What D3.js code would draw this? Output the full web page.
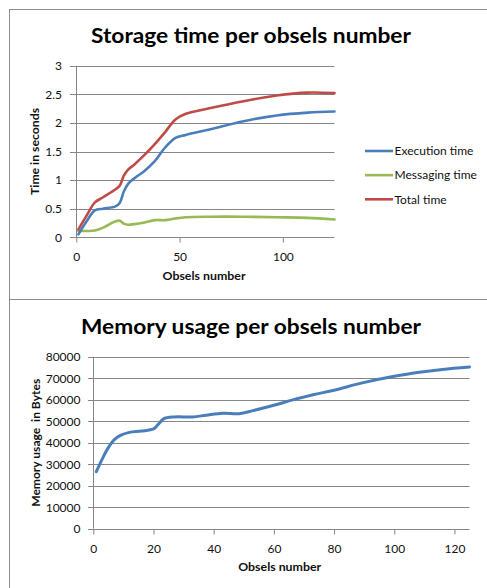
<!DOCTYPE html>
<html><head><meta charset="utf-8">
<script src="https://cdn.jsdelivr.net/npm/d3@7"></script>
<style>
html,body{margin:0;padding:0;background:#fff;}
svg{display:block;font-family:Lato,"Open Sans",sans-serif;}
</style></head>
<body>
<svg id="c" width="487" height="588"></svg>
<script>
// ---- Data: storage time chart ----
const obselsTime = [1, 5, 9, 13, 19, 21, 23, 25, 28, 33, 38, 43, 48, 53, 65, 81, 97, 112, 125];
const executionTime = [0.05, 0.28, 0.47, 0.50, 0.54, 0.60, 0.80, 0.93, 1.03, 1.16, 1.33, 1.57, 1.74, 1.79, 1.89, 2.03, 2.13, 2.18, 2.20];
const messagingTime = [0.11, 0.11, 0.12, 0.17, 0.28, 0.29, 0.24, 0.22, 0.23, 0.26, 0.30, 0.30, 0.33, 0.35, 0.36, 0.36, 0.35, 0.34, 0.31];
const totalTime = [0.14, 0.38, 0.61, 0.70, 0.84, 0.90, 1.08, 1.18, 1.27, 1.44, 1.63, 1.84, 2.06, 2.16, 2.26, 2.38, 2.48, 2.53, 2.52];
const timeSeriesNames = ["Execution time", "Messaging time", "Total time"];
const timeXTicks = [0, 50, 100];
const timeYTicks = [0, 0.5, 1, 1.5, 2, 2.5, 3];

// ---- Data: memory chart ----
const obselsMem = [1, 3, 5, 7, 9, 12, 16, 20, 21.5, 23.5, 27, 33, 37.5, 43, 48.5, 53, 60, 66, 73, 80, 89, 100, 109, 116, 125];
const memoryBytes = [26500, 32500, 37700, 41400, 43400, 44800, 45400, 46400, 48400, 51200, 52000, 52000, 52800, 53700, 53500, 54900, 57400, 59800, 62300, 64400, 67700, 70900, 72900, 74100, 75200];
const memXTicks = [0, 20, 40, 60, 80, 100, 120];
const memYTicks = [0, 10000, 20000, 30000, 40000, 50000, 60000, 70000, 80000];

const colors = ["#4a7ebb", "#98b954", "#be4b48"];
const gridColor = "#868686";
const textColor = "#111";
const svg = d3.select("#c");

// ---- frames ----
svg.append("rect").attr("x", 9.5).attr("y", 9.5).attr("width", 490).attr("height", 290).attr("fill", "none").attr("stroke", "#8c8c8c");
svg.append("rect").attr("x", 9.5).attr("y", 299.5).attr("width", 490).attr("height", 300).attr("fill", "none").attr("stroke", "#8c8c8c");

const curve = d3.curveCatmullRom.alpha(0.5);

// ================= Chart 1 =================
{
  const x = d3.scaleLinear().domain([0, 125]).range([76.3, 334.5]);
  const y = d3.scaleLinear().domain([0, 3]).range([237.3, 65.7]);
  const g = svg.append("g");

  g.append("g").selectAll("line").data(timeYTicks).join("line")
    .attr("x1", 70).attr("x2", x(125)).attr("y1", d => Math.round(y(d)) + 0.5).attr("y2", d => Math.round(y(d)) + 0.5)
    .attr("stroke", gridColor).attr("stroke-width", 1);

  const ya = d3.axisLeft(y).tickValues(timeYTicks).tickSize(0).tickPadding(0).tickFormat(d3.format("~g"));
  const yg = g.append("g").attr("transform", "translate(62,0)").call(ya);
  yg.select(".domain").remove();
  yg.selectAll("text").attr("font-size", 12).attr("fill", textColor).attr("font-family", "Lato");

  g.append("line").attr("x1", 76.5).attr("x2", 76.5).attr("y1", y(3)).attr("y2", y(0)).attr("stroke", gridColor);

  const xa = d3.axisBottom(x).tickValues(timeXTicks).tickSize(5).tickPadding(10);
  const xg = g.append("g").attr("transform", `translate(0,${Math.round(y(0)) + 0.5})`).call(xa);
  xg.select(".domain").remove();
  xg.selectAll("line").attr("stroke", gridColor);
  xg.selectAll("text").attr("font-size", 12).attr("fill", textColor).attr("font-family", "Lato");

  const seriesList = [executionTime, messagingTime, totalTime];
  const line = d3.line().x((d, i) => x(obselsTime[i])).y(d => y(d)).curve(curve);
  [1, 0, 2].forEach(k => {
    g.append("path").datum(seriesList[k]).attr("d", line).attr("fill", "none")
      .attr("stroke", colors[k]).attr("stroke-width", 2.6).attr("stroke-linejoin", "round").attr("stroke-linecap", "round");
  });

  svg.append("text").attr("x", 251).attr("y", 42.5).attr("text-anchor", "middle")
    .attr("font-size", 21).attr("font-weight", "bold").attr("font-family", "Lato").attr("fill", "#000")
    .attr("textLength", 320).attr("lengthAdjust", "spacingAndGlyphs").text("Storage time per obsels number");

  svg.append("text").attr("x", 204).attr("y", 279.5).attr("text-anchor", "middle").attr("fill", textColor)
    .attr("font-size", 12).attr("font-weight", "bold").attr("textLength", 83).attr("lengthAdjust", "spacingAndGlyphs").text("Obsels number");
  svg.append("text").attr("transform", "translate(39,151.5) rotate(-90)").attr("text-anchor", "middle").attr("fill", textColor)
    .attr("font-size", 12).attr("font-weight", "bold").attr("textLength", 87).attr("lengthAdjust", "spacingAndGlyphs").text("Time in seconds");

  const ly = d3.scalePoint().domain(timeSeriesNames).range([151, 199.3]);
  const lg = svg.append("g");
  timeSeriesNames.forEach((n, k) => {
    lg.append("line").attr("x1", 365).attr("x2", 393).attr("y1", ly(n)).attr("y2", ly(n))
      .attr("stroke", colors[k]).attr("stroke-width", 2.6);
    lg.append("text").attr("x", 394.5).attr("y", ly(n) + 4.3).attr("font-size", 12).attr("fill", textColor).text(n);
  });
}

// ================= Chart 2 =================
{
  const x = d3.scaleLinear().domain([0, 125]).range([93.3, 469.5]);
  const y = d3.scaleLinear().domain([0, 80000]).range([528.7, 356.7]);
  const g = svg.append("g");

  g.append("g").selectAll("line").data(memYTicks).join("line")
    .attr("x1", 88).attr("x2", x(125)).attr("y1", d => Math.round(y(d)) + 0.5).attr("y2", d => Math.round(y(d)) + 0.5)
    .attr("stroke", gridColor);

  const ya = d3.axisLeft(y).tickValues(memYTicks).tickSize(0).tickPadding(0).tickFormat(d3.format("d"));
  const yg = g.append("g").attr("transform", "translate(80.5,0)").call(ya);
  yg.select(".domain").remove();
  yg.selectAll("text").attr("font-size", 12).attr("fill", textColor).attr("font-family", "Lato");

  g.append("line").attr("x1", 93.5).attr("x2", 93.5).attr("y1", y(80000)).attr("y2", y(0)).attr("stroke", gridColor);

  const xa = d3.axisBottom(x).tickValues(memXTicks).tickSize(5).tickPadding(10);
  const xg = g.append("g").attr("transform", `translate(0,${Math.round(y(0)) + 0.5})`).call(xa);
  xg.select(".domain").remove();
  xg.selectAll("line").attr("stroke", gridColor);
  xg.selectAll("text").attr("font-size", 12).attr("fill", textColor).attr("font-family", "Lato");

  const line = d3.line().x((d, i) => x(obselsMem[i])).y(d => y(d)).curve(curve);
  g.append("path").datum(memoryBytes).attr("d", line).attr("fill", "none")
    .attr("stroke", colors[0]).attr("stroke-width", 3).attr("stroke-linejoin", "round").attr("stroke-linecap", "round");

  svg.append("text").attr("x", 251).attr("y", 333.5).attr("text-anchor", "middle")
    .attr("font-size", 21).attr("font-weight", "bold").attr("font-family", "Lato").attr("fill", "#000")
    .attr("textLength", 340).attr("lengthAdjust", "spacingAndGlyphs").text("Memory usage per obsels number");

  svg.append("text").attr("x", 279.7).attr("y", 571).attr("text-anchor", "middle").attr("fill", textColor)
    .attr("font-size", 12).attr("font-weight", "bold").attr("textLength", 83).attr("lengthAdjust", "spacingAndGlyphs").text("Obsels number");
  svg.append("text").attr("transform", "translate(40,442.8) rotate(-90)").attr("text-anchor", "middle").attr("xml:space", "preserve").attr("fill", textColor)
    .attr("font-size", 12).attr("font-weight", "bold").attr("textLength", 128).attr("lengthAdjust", "spacingAndGlyphs").text("Memory usage  in Bytes");
}
</script>
</body></html>
